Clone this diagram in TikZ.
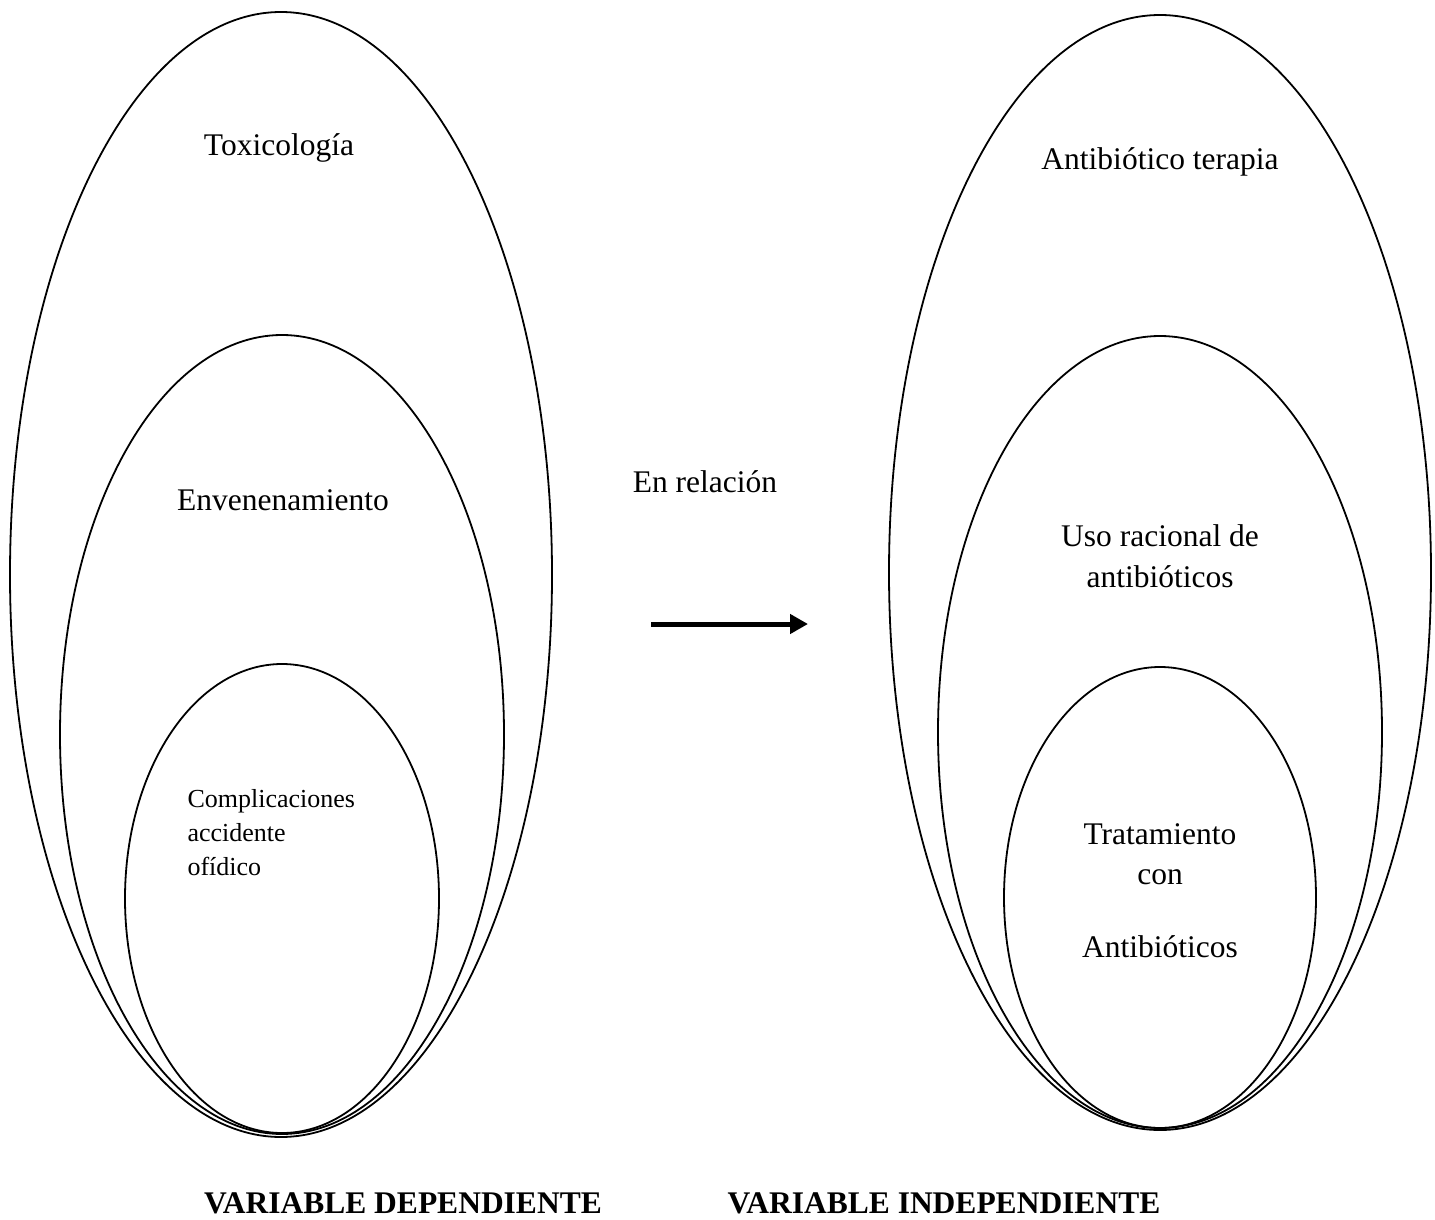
\documentclass[tikz,border=0pt]{standalone}
\usepackage{fontspec}
\setmainfont{Liberation Serif}
\usetikzlibrary{arrows.meta}

\begin{document}
\begin{tikzpicture}[x=1pt,y=-1pt,>={Triangle[length=18pt,width=19pt]},
  ring/.style={line width=1.8pt},
  lbl/.style={anchor=base,font=\fontsize{31.5}{38}\selectfont},
  smalllbl/.style={anchor=base west,font=\fontsize{26}{32}\selectfont},
  title/.style={anchor=base,font=\fontsize{31.5}{38}\selectfont\bfseries}]
  \useasboundingbox (0,0) rectangle (1435,1220);

  % dependent side
  \draw[ring] (281,574.5) ellipse [x radius=271, y radius=562.5];
  \draw[ring] (282,734.5) ellipse [x radius=222, y radius=399.5];
  \draw[ring] (282,898.5) ellipse [x radius=157, y radius=234.5];
  \node[lbl] (toxi) at (279,156) {Toxicología};
  \node[lbl] (enven) at (283,510) {Envenenamiento};
  \node[smalllbl] (comp1) at (184,807) {Complicaciones};
  \node[smalllbl] (comp2) at (184,841) {accidente};
  \node[smalllbl] (comp3) at (184,875) {ofídico};

  % relation
  \node[lbl] (rel) at (705,492) {En relación};
  \coordinate (arrA) at (651,624);
  \coordinate (arrB) at (808,624);
  \draw[->,line width=5pt] (arrA) -- (arrB);

  % independent side
  \draw[ring] (1160,572.5) ellipse [x radius=271, y radius=557.5];
  \draw[ring] (1160,732) ellipse [x radius=222, y radius=396];
  \draw[ring] (1160,897.5) ellipse [x radius=156, y radius=230.5];
  \node[lbl] (anti) at (1160,170) {Antibiótico terapia};
  \node[lbl] (uso1) at (1160,546) {Uso racional de};
  \node[lbl] (uso2) at (1160,587) {antibióticos};
  \node[lbl] (trat1) at (1160,844) {Tratamiento};
  \node[lbl] (trat2) at (1160,884) {con};
  \node[lbl] (trat3) at (1160,957) {Antibióticos};

  % captions
  \node[title] (dep) at (403,1213) {VARIABLE DEPENDIENTE};
  \node[title] (indep) at (944,1213) {VARIABLE INDEPENDIENTE};
\end{tikzpicture}
\end{document}
